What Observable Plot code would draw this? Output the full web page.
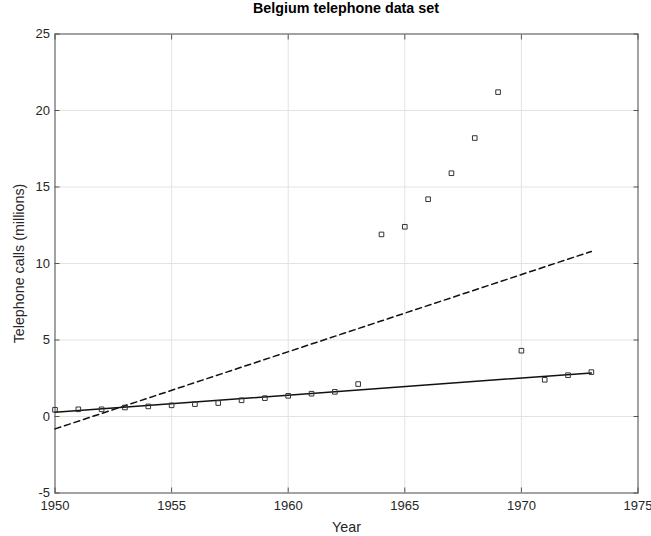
<!DOCTYPE html>
<html>
<head>
<meta charset="utf-8">
<script src="https://cdn.jsdelivr.net/npm/d3@7"></script>
<script src="https://cdn.jsdelivr.net/npm/@observablehq/plot@0.6"></script>
<style>
  html, body { margin: 0; padding: 0; background: #fff; }
  #title { height: 26px; line-height: 25px; text-align: center; font: bold 14.3px "Liberation Sans", Arial, sans-serif; color: #000; width: 651px; padding-left: 41px; box-sizing: border-box; white-space: nowrap; }
  svg { display: block; }
  svg g[aria-label="x-axis label"] text { font-size: 14.3px; }
  svg g[aria-label="y-axis label"] text { font-size: 14.3px; }
</style>
</head>
<body>
<div id="title">Belgium telephone data set</div>
<div id="chart"></div>
<script>
const years = [1950,1951,1952,1953,1954,1955,1956,1957,1958,1959,1960,1961,1962,1963,1964,1965,1966,1967,1968,1969,1970,1971,1972,1973];
const calls = [0.44,0.47,0.47,0.59,0.66,0.73,0.81,0.88,1.06,1.20,1.35,1.49,1.61,2.12,11.9,12.4,14.2,15.9,18.2,21.2,4.3,2.4,2.7,2.9];
const fitYears = [1950, 1973];
const lsFit = [-0.81, 10.79];
const robustFit = [0.28, 2.85];
const xTicks = [1950,1955,1960,1965,1970,1975];
const yTicks = [-5,0,5,10,15,20,25];

const points = years.map((y, i) => ({year: y, calls: calls[i]}));
const ls = fitYears.map((y, i) => ({year: y, v: lsFit[i]}));
const rob = fitYears.map((y, i) => ({year: y, v: robustFit[i]}));

const ink = "#262626";
const chart = Plot.plot({
  width: 651,
  height: 510,
  marginLeft: 54.5,
  marginRight: 13.5,
  marginTop: 7.5,
  marginBottom: 43.5,
  style: {fontFamily: "'Liberation Sans', Arial, sans-serif", fontSize: "13px", color: ink, background: "#fff"},
  x: {domain: [1950, 1975]},
  y: {domain: [-5, 25]},
  marks: [
    Plot.gridX(xTicks, {stroke: "#e3e3e3", strokeOpacity: 1}),
    Plot.gridY(yTicks, {stroke: "#e3e3e3", strokeOpacity: 1}),
    Plot.axisX(xTicks, {anchor: "bottom", tickSize: -5, stroke: "#555", tickPadding: 13, tickFormat: d => String(d), label: "Year", labelAnchor: "center", labelArrow: "none", labelOffset: 39, fill: ink, fontSize: 13}),
    Plot.axisX(xTicks, {anchor: "top", tickSize: -5, stroke: "#555", tickFormat: () => "", label: null}),
    Plot.axisY(yTicks, {anchor: "left", tickSize: -5, stroke: "#555", tickPadding: 10, tickFormat: d => String(d), label: "Telephone calls (millions)", labelAnchor: "center", labelArrow: "none", labelOffset: 41, fill: ink, fontSize: 13}),
    Plot.axisY(yTicks, {anchor: "right", tickSize: -5, stroke: "#555", tickFormat: () => "", label: null}),
    Plot.frame({stroke: "#555", strokeWidth: 1}),
    Plot.line(ls, {x: "year", y: "v", stroke: "#111", strokeWidth: 1.5, strokeDasharray: "6,4"}),
    Plot.line(rob, {x: "year", y: "v", stroke: "#111", strokeWidth: 1.5}),
    Plot.dot(points, {x: "year", y: "calls", symbol: "square", r: 2.6, stroke: "#333", strokeWidth: 1, fill: "none"})
  ]
});
document.getElementById("chart").appendChild(chart);
</script>
</body>
</html>
